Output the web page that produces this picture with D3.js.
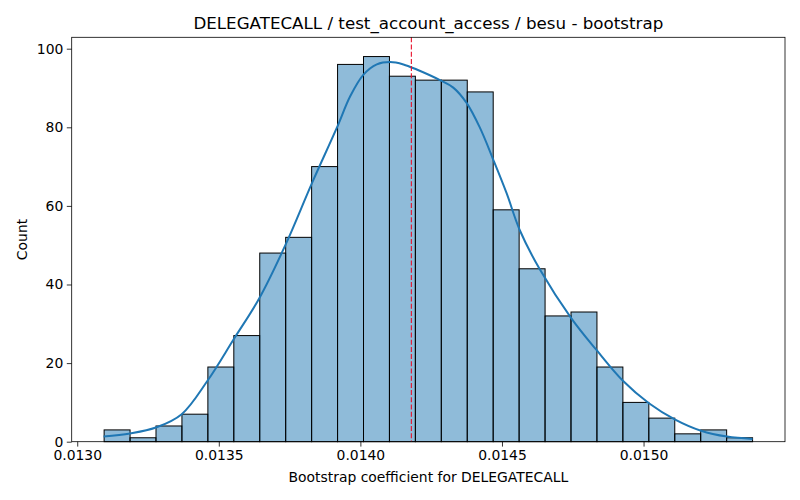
<!DOCTYPE html>
<html>
<head>
<meta charset="utf-8">
<script src="https://cdn.jsdelivr.net/npm/d3@7"></script>
<style>
  body { margin: 0; background: #fff; }
  svg { font-family: "DejaVu Sans", sans-serif; }
</style>
</head>
<body>
<div id="chart"></div>
<script>
// histogram of bootstrap coefficients (25 bins)
var binMin = 0.013095,
    binMax = 0.015385;
var counts = [3, 1, 4, 7, 19, 27, 48, 52, 70, 96, 98, 93, 92, 92, 89, 59, 44, 32, 33, 19, 10, 6, 2, 3, 1];

// kde curve (x value, count)
var kdeX = [0.013093, 0.013187, 0.013278, 0.013369, 0.013460, 0.013552, 0.013643, 0.013735,
            0.013829, 0.013917, 0.013964, 0.014011, 0.014058, 0.014105, 0.014152, 0.014199,
            0.014281, 0.014328, 0.014375, 0.014422, 0.014469, 0.014516, 0.014563, 0.014634,
            0.014745, 0.014833, 0.014927, 0.015019, 0.015110, 0.015203, 0.015295, 0.015385];
var kdeY = [1.3, 2.1, 3.6, 7.0, 15.5, 26.0, 36.5, 50.0,
            65.8, 79.9, 87.9, 93.4, 96.0, 96.6, 96.0, 94.7,
            92.0, 90.1, 86.2, 79.9, 71.8, 63.3, 53.8, 43.8,
            31.4, 23.4, 15.5, 9.8, 5.7, 2.8, 1.3, 0.7];

var meanValue = 0.01418;
var xTicks = [0.0130, 0.0135, 0.0140, 0.0145, 0.0150];
var yTicks = [0, 20, 40, 60, 80, 100];

var titleText = "DELEGATECALL / test_account_access / besu - bootstrap";
var xLabel = "Bootstrap coefficient for DELEGATECALL";
var yLabel = "Count";

//==========================================================================================
var width = 800, height = 500;
var plotLeft = 71.7, plotRight = 785, plotTop = 37.3, plotBottom = 441.7;

var svg = d3.select("#chart").append("svg")
    .attr("width", width).attr("height", height);

var pad = (binMax - binMin) * 0.05;
var xScale = d3.scaleLinear()
    .domain([binMin - pad, binMax + pad])
    .range([plotLeft, plotRight]);

var yScale = d3.scaleLinear()
    .domain([0, d3.max(counts) * 1.05])
    .range([plotBottom, plotTop]);

var binWidth = (binMax - binMin) / counts.length;
var bins = counts.map(function (c, i) {
    return { x0: binMin + i * binWidth, x1: binMin + (i + 1) * binWidth, n: c };
});

// bars
svg.append("g").selectAll("rect").data(bins).enter().append("rect")
    .attr("x", function (d) { return xScale(d.x0); })
    .attr("y", function (d) { return yScale(d.n); })
    .attr("width", function (d) { return xScale(d.x1) - xScale(d.x0); })
    .attr("height", function (d) { return yScale(0) - yScale(d.n); })
    .attr("fill", "rgba(31,119,180,0.5)")
    .attr("stroke", "#000")
    .attr("stroke-width", 1);

// kde line
var kdePoints = kdeX.map(function (x, i) { return [x, kdeY[i]]; });
var line = d3.line()
    .x(function (d) { return xScale(d[0]); })
    .y(function (d) { return yScale(d[1]); })
    .curve(d3.curveCatmullRom);

svg.append("path")
    .attr("d", line(kdePoints))
    .attr("fill", "none")
    .attr("stroke", "#1f77b4")
    .attr("stroke-width", 2);

// mean line
svg.append("line")
    .attr("x1", xScale(meanValue)).attr("x2", xScale(meanValue))
    .attr("y1", plotTop).attr("y2", plotBottom)
    .attr("stroke", "#e8102a")
    .attr("stroke-width", 1.1)
    .attr("stroke-dasharray", "5,2.2");

// axes
var xAxis = d3.axisBottom(xScale)
    .tickValues(xTicks)
    .tickFormat(d3.format(".4f"))
    .tickSize(4.9).tickPadding(3.5);
var yAxis = d3.axisLeft(yScale)
    .tickValues(yTicks)
    .tickSize(4.9).tickPadding(3.5);

var gx = svg.append("g").attr("transform", "translate(0," + plotBottom + ")").call(xAxis);
var gy = svg.append("g").attr("transform", "translate(" + plotLeft + ",0)").call(yAxis);

[gx, gy].forEach(function (g) {
    g.select(".domain").remove();
    g.selectAll("line").attr("stroke", "#000").attr("stroke-width", 0.8);
    g.selectAll("text").attr("fill", "#000").style("font-size", "13.9px")
        .style("font-family", "DejaVu Sans, sans-serif");
});

// frame
svg.append("rect")
    .attr("x", plotLeft).attr("y", plotTop)
    .attr("width", plotRight - plotLeft).attr("height", plotBottom - plotTop)
    .attr("fill", "none").attr("stroke", "#000").attr("stroke-width", 0.8);

// texts
svg.append("text")
    .attr("x", (plotLeft + plotRight) / 2).attr("y", 29)
    .attr("text-anchor", "middle")
    .style("font-size", "16.7px")
    .text(titleText);

svg.append("text")
    .attr("x", (plotLeft + plotRight) / 2).attr("y", 482)
    .attr("text-anchor", "middle")
    .style("font-size", "13.9px")
    .text(xLabel);

svg.append("text")
    .attr("transform", "translate(27," + (plotTop + plotBottom) / 2 + ") rotate(-90)")
    .attr("text-anchor", "middle")
    .style("font-size", "13.9px")
    .text(yLabel);
</script>
</body>
</html>
